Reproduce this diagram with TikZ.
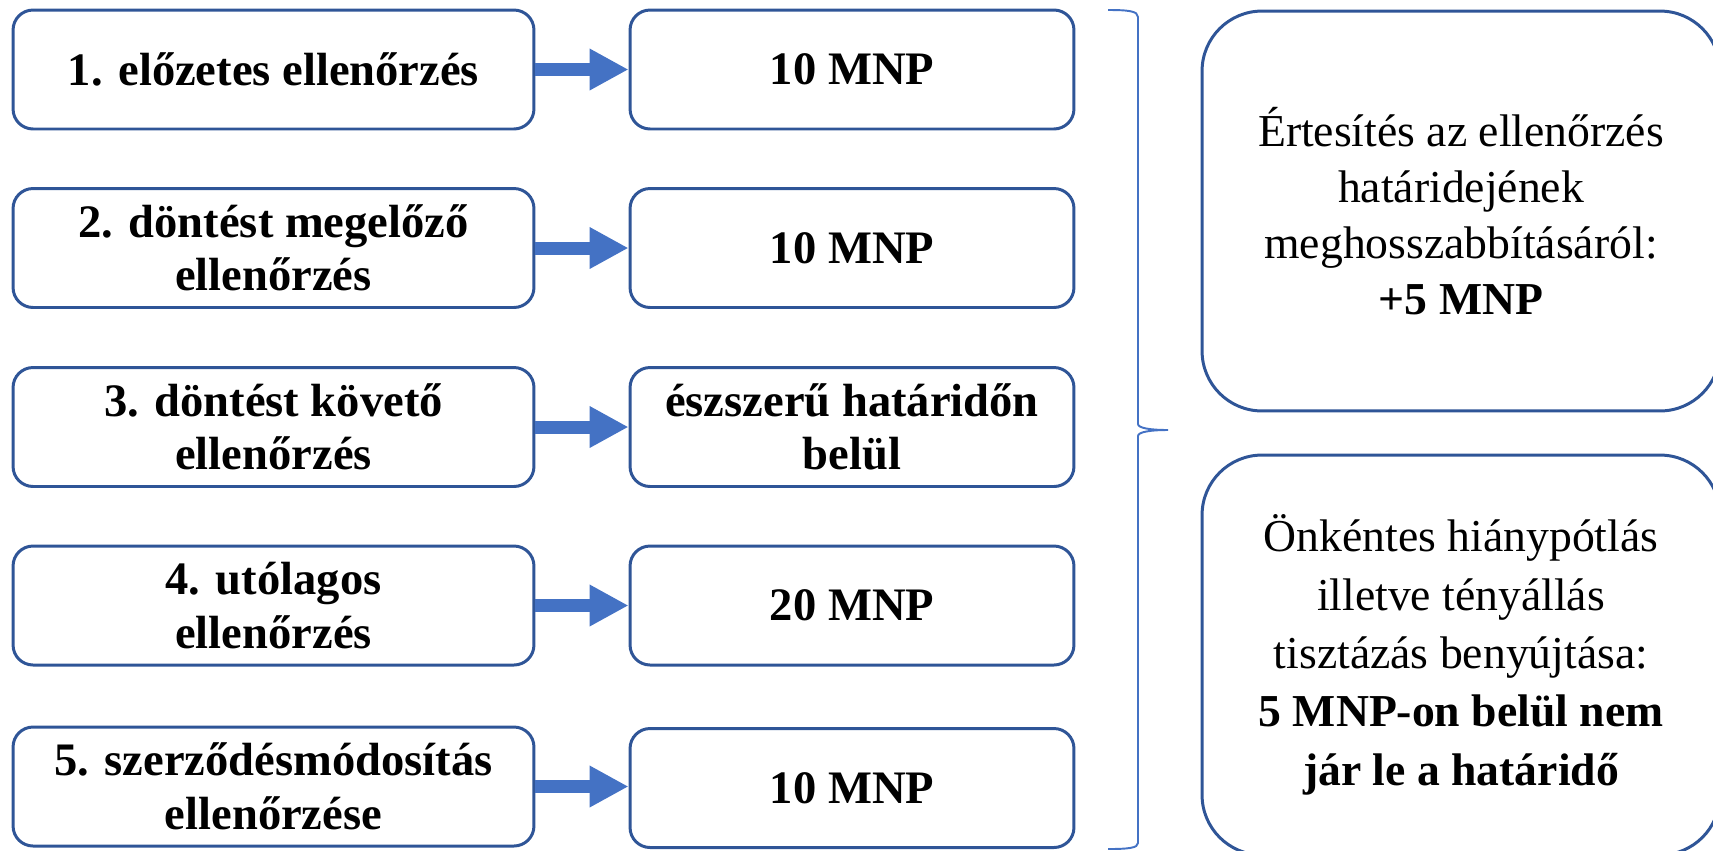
\documentclass[tikz,border=0pt]{standalone}
\usepackage{fontspec}
\setmainfont{Liberation Serif}
\usetikzlibrary{arrows.meta,positioning}
\definecolor{boxblue}{HTML}{2F5597}
\definecolor{arrowblue}{HTML}{4472C4}
\begin{document}
\begin{tikzpicture}[x=0.02cm,y=-0.02cm,
  checkbox/.style={draw=boxblue,line width=1.7pt,rounded corners=0.4cm,
    minimum width=10.42cm,minimum height=2.38cm,align=center,
    font=\fontsize{26.5}{30.5}\selectfont\bfseries},
  daybox/.style={checkbox,minimum width=8.88cm},
  notebox/.style={draw=boxblue,line width=1.7pt,rounded corners=1.2cm,
    minimum width=10.36cm,minimum height=8cm,align=center,
    font=\fontsize{26}{32}\selectfont},
  fatarrow/.style={arrowblue,line width=0.26cm,
    -{Triangle[length=0.78cm,width=0.78cm]}}]
  \useasboundingbox (0,0) rectangle (1713,850);
  % types of checks
  \node[checkbox] (l1) at (273.5,69.5) {1. előzetes ellenőrzés};
  \node[checkbox] (l2) at (273.5,248) {2. döntést megelőző\\ellenőrzés};
  \node[checkbox] (l3) at (273.5,427) {3. döntést követő\\ellenőrzés};
  \node[checkbox] (l4) at (273.5,605.5) {4. utólagos\\ellenőrzés};
  \node[checkbox] (l5) at (273.5,786.5) {5. szerződésmódosítás\\ellenőrzése};
  % deadlines
  \node[daybox] (d1) at (852,69.5) {10 MNP};
  \node[daybox] (d2) at (852,248) {10 MNP};
  \node[daybox] (d3) at (852,427) {észszerű határidőn\\belül};
  \node[daybox] (d4) at (852,605.5) {20 MNP};
  \node[daybox] (d5) at (852,788) {10 MNP};
  % arrows
  \draw[fatarrow] (l1) -- (d1);
  \draw[fatarrow] (l2) -- (d2);
  \draw[fatarrow] (l3) -- (d3);
  \draw[fatarrow] (l4) -- (d4);
  \draw[fatarrow] (l5.east) -- (l5.east -| d5.west);
  % brace
  \draw[arrowblue,line width=1.1pt]
    (1108,10) .. controls (1128,10) and (1138,11) .. (1138,17) -- (1138,424)
    .. controls (1138,428) and (1150,430) .. (1168,430)
    .. controls (1150,430) and (1138,432) .. (1138,436) -- (1138,843)
    .. controls (1138,848) and (1128,849) .. (1108,849);
  % notes
  \node[notebox] (ert) at (1461,211)
    {Értesítés az ellenőrzés\\határidejének\\meghosszabbításáról:\\\textbf{+5 MNP}};
  \node[notebox,font=\fontsize{26}{33.2}\selectfont] (hiany) at (1461,655)
    {Önkéntes hiánypótlás\\illetve tényállás\\tisztázás benyújtása:\\\textbf{5 MNP-on belül nem}\\\textbf{jár le a határidő}};
\end{tikzpicture}
\end{document}
